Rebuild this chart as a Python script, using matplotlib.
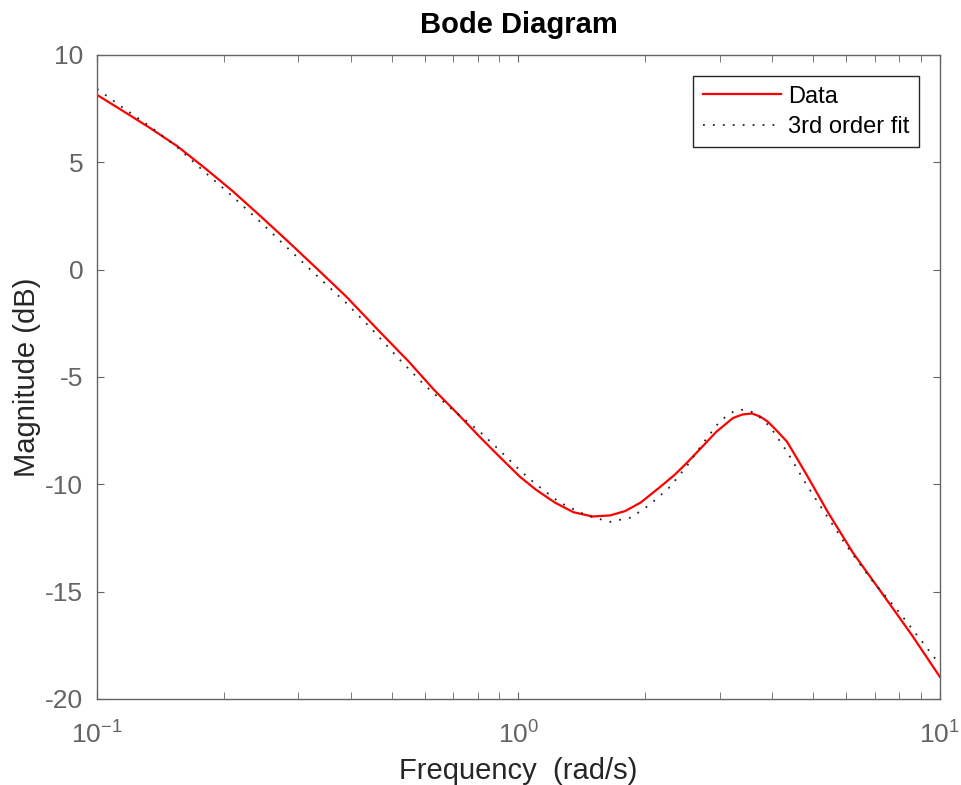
import matplotlib as mpl
mpl.use('agg')
mpl.rcParams['axes.unicode_minus'] = False
mpl.rcParams['font.family'] = ['Liberation Sans', 'DejaVu Sans']
mpl.rcParams['mathtext.default'] = 'regular'

import matplotlib.pyplot as plt
import numpy as np

# red "Data" curve
data_w = [0.100, 0.115, 0.134, 0.155, 0.180, 0.210, 0.244, 0.280, 0.329, 0.390,
          0.469, 0.550, 0.627, 0.720, 0.810, 0.900, 1.008, 1.10, 1.22, 1.35,
          1.50, 1.65, 1.79, 1.95, 2.17, 2.35, 2.51, 2.70, 2.95, 3.23, 3.40,
          3.58, 3.75, 3.91, 4.10, 4.34, 4.83, 5.42, 6.22, 7.48, 8.60, 10.0]
data_db = [8.14, 7.40, 6.58, 5.75, 4.74, 3.65, 2.50, 1.42, 0.13, -1.25,
           -2.90, -4.30, -5.55, -6.75, -7.80, -8.70, -9.65, -10.25, -10.85, -11.30,
           -11.50, -11.45, -11.25, -10.85, -10.12, -9.55, -9.00, -8.35, -7.55, -6.91, -6.75,
           -6.70, -6.85, -7.09, -7.50, -8.02, -9.56, -11.29, -13.19, -15.38, -17.05, -18.97]

# dotted "3rd order fit" curve
fit_w = [0.100, 0.115, 0.134, 0.155, 0.180, 0.210, 0.244, 0.280, 0.329, 0.390,
         0.450, 0.523, 0.600, 0.700, 0.810, 0.900, 1.008, 1.10, 1.254, 1.45,
         1.648, 1.85, 2.05, 2.288, 2.51, 2.75, 2.96, 3.10, 3.26, 3.42, 3.58,
         3.75, 3.96, 4.34, 4.83, 5.14, 6.00, 6.82, 8.00, 10.0]
fit_db = [8.42, 7.55, 6.65, 5.70, 4.55, 3.40, 2.22, 1.10, -0.20, -1.55,
          -2.80, -4.20, -5.40, -6.55, -7.55, -8.40, -9.35, -10.00, -10.85, -11.45,
          -11.75, -11.55, -10.95, -10.12, -9.15, -8.05, -7.23, -6.85, -6.58, -6.52, -6.63,
          -6.90, -7.33, -8.49, -10.03, -10.85, -12.85, -14.35, -15.95, -18.40]

grey = '#646464'

fig = plt.figure()
fig.set_size_inches(9.61, 7.85)
ax = fig.add_axes([0.101, 0.1096, 0.877, 0.8204])

ax.semilogx(data_w, data_db, color='red', lw=1.6, label='Data')
ax.semilogx(fit_w, fit_db, color='#222222', lw=1.3, ls=(0, (1, 4.5)), label='3rd order fit')

ax.set_xlim(0.1, 10)
ax.set_ylim(-20, 10)
ax.set_yticks([-20, -15, -10, -5, 0, 5, 10])
ax.set_xticks([0.1, 1, 10])
ax.set_xticklabels(['$10^{-1}$', '$10^{0}$', '$10^{1}$'])

for s in ax.spines.values():
    s.set_color(grey)
    s.set_linewidth(1.0)
ax.tick_params(which='both', direction='in', top=True, right=True, color=grey,
               labelcolor=grey, labelsize=19, length=5)
ax.tick_params(axis='x', which='major', pad=16.5)
ax.tick_params(axis='y', which='major', pad=10)

ax.set_xlabel('Frequency  (rad/s)', fontsize=21, color='#262626', labelpad=6)
ax.set_ylabel('Magnitude (dB)', fontsize=21, color='#262626', labelpad=3)
ax.set_title('Bode Diagram', fontsize=21, fontweight='bold', pad=16)

leg = ax.legend(loc='upper right', fontsize=17, fancybox=False, framealpha=1,
                edgecolor='#262626', handlelength=3.3, borderpad=0.4,
                labelspacing=0.35, borderaxespad=0.9, handletextpad=0.3)
leg.get_frame().set_linewidth(1.0)

plt.savefig('out.png', dpi=100)
